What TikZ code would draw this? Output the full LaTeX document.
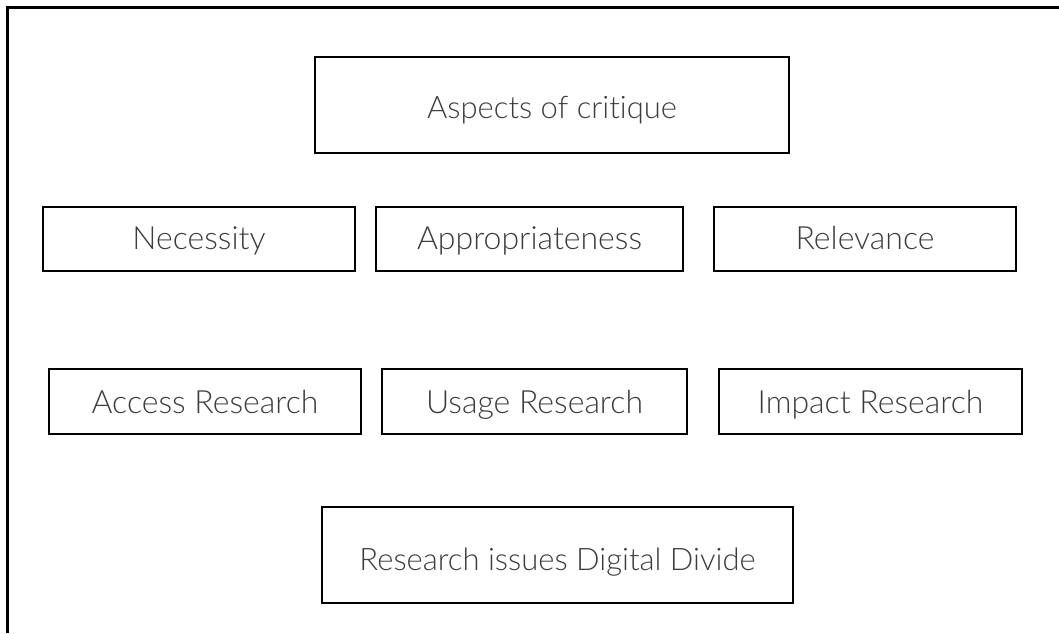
\documentclass[tikz,border=0pt]{standalone}
\usepackage{fontspec}
\setmainfont{Lato Light}[Ligatures=NoCommon]
\usepackage{tikz}

\definecolor{inkgray}{RGB}{60,60,60}

\tikzset{
	box/.style={draw=black, line width=2.8pt, inner sep=0pt, text=inkgray, align=center},
	rowbox/.style={box, font=\fontsize{32}{38}\selectfont, text height=42pt, text depth=22pt},
	bigbox/.style={box, font=\fontsize{31}{37}\selectfont}
}

\begin{document}
\begin{tikzpicture}[x=1pt, y=-1pt]
	\useasboundingbox (0,0) rectangle (1059,633);
	%\draw[help lines] (0,0) grid[step=50] (1059,633);
	% frame, open at the bottom and on the right
	\draw [line width=2.5pt] (7.5,633)--(7.5,7.5)--(1059,7.5);
	% top
	\node [bigbox, minimum width=474pt, text height=61pt, text depth=35pt] (critique) at (552,105) {Aspects of critique};
	% first row
	\node [rowbox, minimum width=312pt] (necessity) at (199,239) {Necessity};
	\node [rowbox, minimum width=307pt] (appropriate) at (529.5,239) {Appropriateness};
	\node [rowbox, minimum width=302pt] (relevance) at (865,239) {Relevance};
	% second row
	\node [rowbox, minimum width=312pt, text height=44pt, text depth=21pt] (access) at (205,401.5) {Access Research};
	\node [rowbox, minimum width=305pt, text height=44pt, text depth=21pt] (usage) at (534.5,401.5) {Usage Research};
	\node [rowbox, minimum width=303pt, text height=44pt, text depth=21pt] (impact) at (870.5,401.5) {Impact Research};
	% bottom
	\node [bigbox, minimum width=471pt, text height=63pt, text depth=33pt] (divide) at (557.5,555) {Research issues Digital Divide};
\end{tikzpicture}
\end{document}
